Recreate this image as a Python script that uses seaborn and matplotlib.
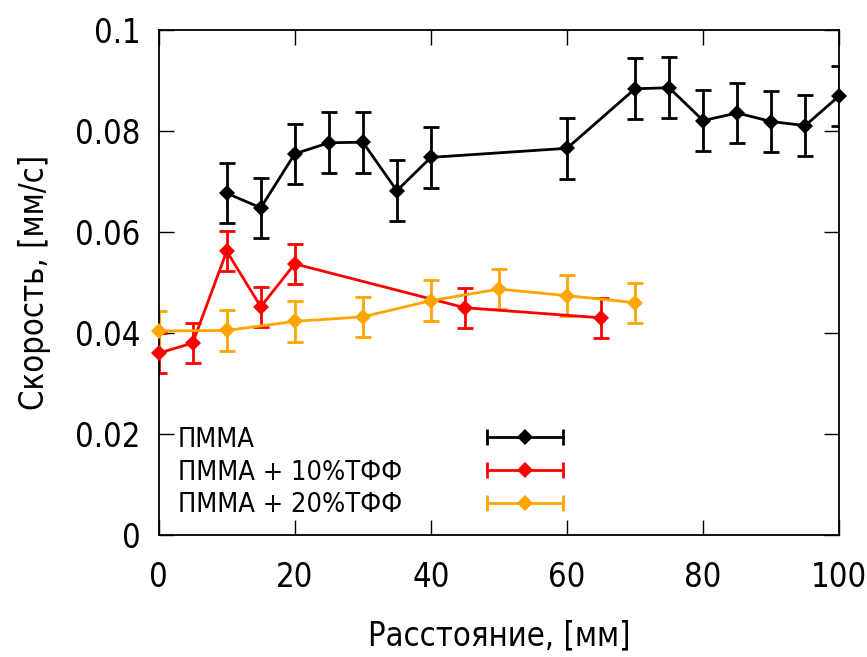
import numpy as np
import pandas as pd
import matplotlib
matplotlib.use("Agg")
import matplotlib.pyplot as plt
from matplotlib.lines import Line2D
from matplotlib.legend_handler import HandlerBase
from matplotlib.ticker import FuncFormatter
import seaborn as sns

# Скорость в зависимости от расстояния для трёх составов
pmma_x = [10, 15, 20, 25, 30, 35, 40, 60, 70, 75, 80, 85, 90, 95, 100]
pmma_y = [0.0677, 0.0648, 0.0755, 0.0777, 0.0778, 0.0682, 0.0748, 0.0766,
          0.0884, 0.0886, 0.0821, 0.0836, 0.0819, 0.0811, 0.0870]
pmma_err = [0.006, 0.006, 0.006, 0.006, 0.006, 0.006, 0.006, 0.006,
            0.006, 0.006, 0.006, 0.006, 0.006, 0.006, 0.006]

tff10_x = [0, 5, 10, 15, 20, 45, 65]
tff10_y = [0.0360, 0.0380, 0.0562, 0.0452, 0.0537, 0.0450, 0.0430]
tff10_err = [0.004, 0.004, 0.004, 0.004, 0.004, 0.004, 0.004]

tff20_x = [0, 10, 20, 30, 40, 50, 60, 70]
tff20_y = [0.0404, 0.0405, 0.0423, 0.0432, 0.0464, 0.0487, 0.0474, 0.0460]
tff20_err = [0.004, 0.004, 0.004, 0.004, 0.004, 0.004, 0.004, 0.004]

labels = ["ПММА", "ПММА + 10%ТФФ", "ПММА + 20%ТФФ"]
colors = ["#000000", "#ff0000", "#ffa500"]

x_ticks = [0, 20, 40, 60, 80, 100]
y_ticks = [0, 0.02, 0.04, 0.06, 0.08, 0.1]

series = [(pmma_x, pmma_y, pmma_err), (tff10_x, tff10_y, tff10_err),
          (tff20_x, tff20_y, tff20_err)]

frames = []
for lab, (xs, ys, es) in zip(labels, series):
    frames.append(pd.DataFrame({"x": xs, "y": ys, "err": es, "series": lab}))
df = pd.concat(frames, ignore_index=True)

sns.set_theme(style="ticks")
plt.rcParams["font.family"] = ["DejaVu Sans"]
plt.rcParams["font.stretch"] = "condensed"
for key in ("text.color", "axes.labelcolor", "xtick.color", "ytick.color"):
    plt.rcParams[key] = "black"
FS = 23.5
LEG_FS = 19.5

fig = plt.figure(figsize=(8.67, 6.57), dpi=100)
ax = fig.add_axes([0.183, 0.186, 0.785, 0.768])


class ErrorBarHandle:
    def __init__(self, color):
        self.color = color


class HandlerHErr(HandlerBase):
    """Horizontal error-bar sample: line with end caps and a diamond."""
    def create_artists(self, legend, orig_handle, xdescent, ydescent,
                       width, height, fontsize, trans):
        c = orig_handle.color
        yc = height / 2 - ydescent
        x0, x1 = -xdescent, -xdescent + width
        line = Line2D([x0, x1], [yc, yc], color=c, lw=2.0, transform=trans)
        caps = Line2D([x0, x1], [yc, yc], color=c, lw=0, marker="|",
                      markersize=11, markeredgewidth=2.0, transform=trans)
        mid = Line2D([(x0 + x1) / 2], [yc], color=c, lw=0, marker="D",
                     markersize=8, markeredgewidth=0, transform=trans)
        return [line, caps, mid]


class HandlerNone(HandlerBase):
    def create_artists(self, legend, orig_handle, xdescent, ydescent,
                       width, height, fontsize, trans):
        blank = Line2D([], [], transform=trans)
        blank.set_visible(False)
        return [blank]


for lab, col in zip(labels, colors):
    sub = df[df["series"] == lab]
    ax.errorbar(sub["x"], sub["y"], yerr=sub["err"], fmt="none",
                ecolor=col, elinewidth=2.0, capsize=5.5, capthick=2.0,
                zorder=2)
    sns.lineplot(data=sub, x="x", y="y", ax=ax, color=col, lw=2.0,
                 marker="D", markersize=8, markeredgewidth=0,
                 estimator=None, sort=False, legend=False, zorder=3,
                 clip_on=False)

ax.set_xlim(0, 100)
ax.set_ylim(0, 0.1)
ax.set_xticks(x_ticks)
ax.set_yticks(y_ticks)
fmt = FuncFormatter(lambda v, p: f"{v:g}")
ax.yaxis.set_major_formatter(fmt)
ax.xaxis.set_major_formatter(fmt)
ax.tick_params(direction="in", length=11, width=1.0, top=True, right=True,
               labelsize=FS, colors="black")
ax.tick_params(axis="y", pad=13)
ax.tick_params(axis="x", pad=19)
for sp in ax.spines.values():
    sp.set_visible(True)
    sp.set_linewidth(1.3)
    sp.set_color("black")

ax.set_xlabel("Расстояние, [мм]", fontsize=FS, labelpad=18)
ax.set_ylabel("Скорость, [мм/с]", fontsize=FS, labelpad=17)

# Key: labels column on the left, error-bar samples column on the right
handles = [ErrorBarHandle(c) for c in colors]
leg_text = ax.legend(handles, labels, handler_map={ErrorBarHandle: HandlerNone()},
                     loc="upper left", bbox_to_anchor=(0.028, 0.214),
                     frameon=False, fontsize=LEG_FS, handlelength=0,
                     handletextpad=0, labelspacing=0.25,
                     borderpad=0, borderaxespad=0)
ax.add_artist(leg_text)
ax.legend(handles, ["", "", ""], handler_map={ErrorBarHandle: HandlerHErr()},
          loc="upper left", bbox_to_anchor=(0.483, 0.214),
          frameon=False, fontsize=LEG_FS, handlelength=2.8,
          handletextpad=0, labelspacing=0.25,
          borderpad=0, borderaxespad=0)

fig.savefig("out.png", dpi=100)
